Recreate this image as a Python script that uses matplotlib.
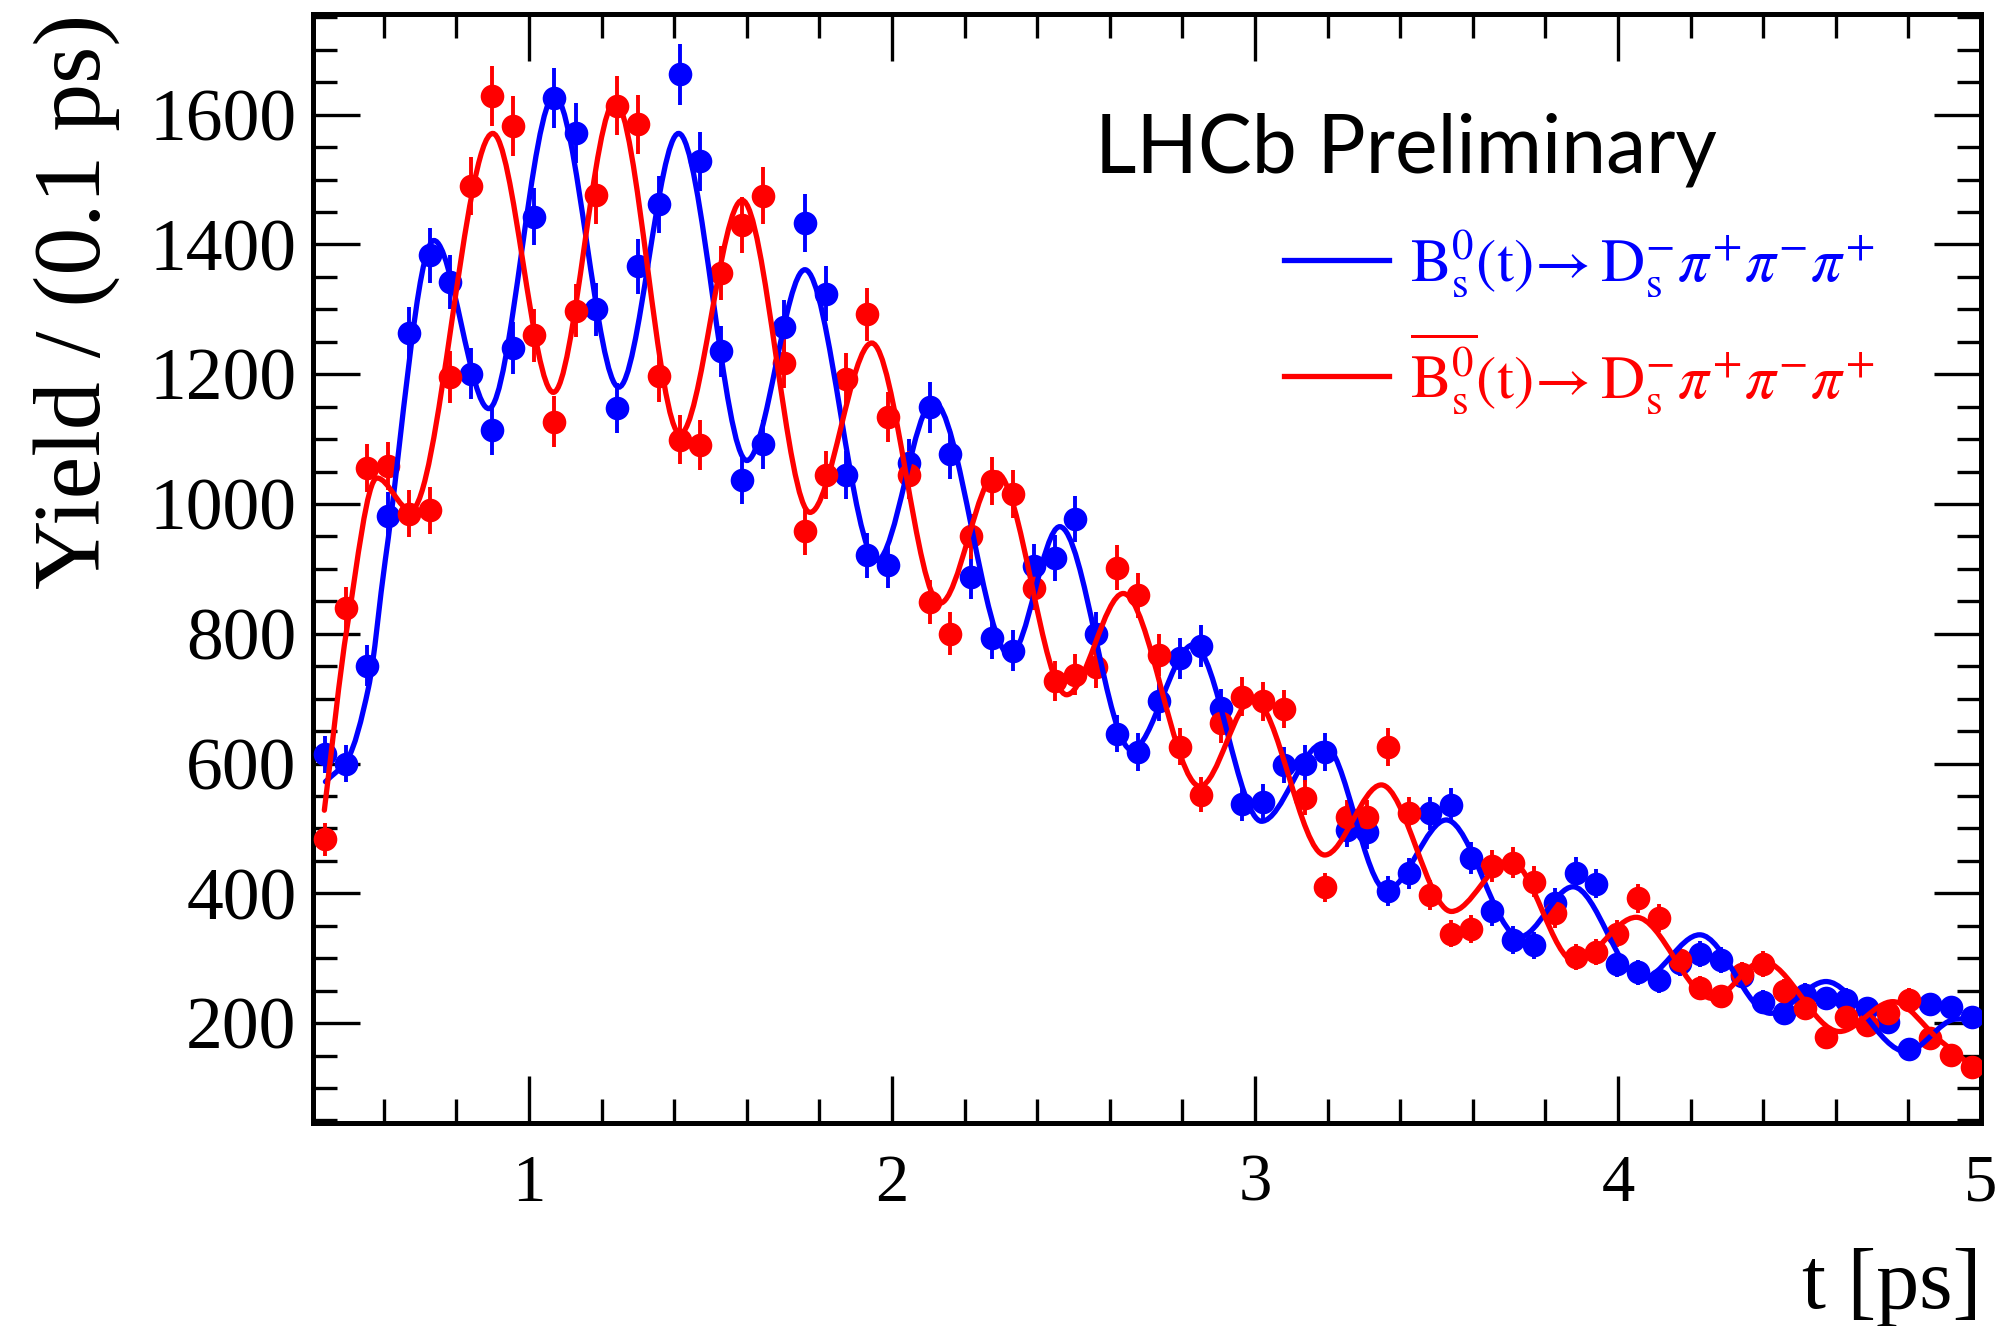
import numpy as np
import matplotlib
matplotlib.use('Agg')
import matplotlib.pyplot as plt
from matplotlib.path import Path
from matplotlib.patches import PathPatch
from matplotlib.lines import Line2D
from matplotlib.ticker import MultipleLocator

# bin centres [ps]
t_bins = [0.439, 0.496, 0.554, 0.611, 0.669, 0.726, 0.783, 0.841, 0.898, 0.956,
          1.013, 1.070, 1.128, 1.185, 1.243, 1.300, 1.357, 1.415, 1.472, 1.530,
          1.587, 1.644, 1.702, 1.759, 1.817, 1.874, 1.931, 1.989, 2.046, 2.104,
          2.161, 2.218, 2.276, 2.333, 2.391, 2.448, 2.505, 2.563, 2.620, 2.678,
          2.735, 2.792, 2.850, 2.907, 2.965, 3.022, 3.079, 3.137, 3.194, 3.252,
          3.309, 3.366, 3.424, 3.481, 3.539, 3.596, 3.653, 3.711, 3.768, 3.826,
          3.883, 3.940, 3.998, 4.055, 4.113, 4.170, 4.227, 4.285, 4.342, 4.400,
          4.457, 4.514, 4.572, 4.629, 4.687, 4.744, 4.801, 4.859, 4.916, 4.974]

# Bs0 -> Ds pi pi pi (blue)
yield_bs = [614, 600, 751, 982, 1263, 1383, 1342, 1201, 1114, 1240,
            1443, 1626, 1572, 1300, 1148, 1366, 1462, 1662, 1528, 1235,
            1037, 1092, 1273, 1433, 1324, 1045, 921, 906, 1063, 1149,
            1077, 888, 793, 774, 904, 917, 977, 800, 646, 618,
            696, 762, 781, 685, 538, 541, 598, 600, 618, 497,
            495, 403, 431, 523, 536, 454, 372, 328, 320, 385,
            432, 415, 291, 278, 266, 292, 307, 297, 273, 233,
            215, 243, 238, 236, 223, 202, 160, 230, 225, 210]
err_bs = [28, 28, 32, 36, 41, 43, 42, 40, 38, 40,
          44, 46, 46, 41, 39, 42, 44, 47, 45, 40,
          37, 38, 41, 44, 42, 37, 35, 35, 37, 39,
          38, 34, 32, 32, 35, 35, 36, 33, 29, 29,
          30, 32, 32, 30, 27, 27, 28, 28, 29, 26,
          26, 23, 24, 26, 27, 25, 22, 21, 21, 23,
          24, 23, 20, 19, 19, 20, 20, 20, 19, 18,
          17, 18, 18, 18, 17, 16, 15, 17, 17, 17]

# Bs0bar -> Ds pi pi pi (red)
yield_bsbar = [483, 839, 1056, 1058, 985, 990, 1195, 1490, 1629, 1583,
               1260, 1127, 1298, 1476, 1614, 1585, 1197, 1099, 1091, 1356,
               1430, 1475, 1218, 958, 1044, 1192, 1292, 1134, 1044, 849,
               800, 950, 1035, 1015, 870, 727, 737, 748, 902, 859,
               767, 626, 552, 662, 703, 696, 684, 547, 409, 517,
               517, 625, 523, 398, 338, 345, 442, 447, 418, 369,
               302, 310, 338, 392, 362, 297, 254, 241, 275, 291,
               250, 223, 179, 210, 197, 215, 236, 177, 151, 133]
err_bsbar = [25, 33, 37, 37, 36, 36, 40, 44, 46, 46,
             41, 39, 41, 44, 46, 46, 40, 38, 38, 42,
             43, 44, 40, 36, 37, 40, 41, 39, 37, 34,
             33, 35, 37, 37, 34, 31, 31, 31, 35, 34,
             32, 29, 27, 30, 30, 30, 30, 27, 23, 26,
             26, 29, 26, 23, 21, 21, 24, 24, 24, 22,
             20, 20, 21, 23, 22, 20, 18, 18, 19, 20,
             18, 17, 15, 17, 16, 17, 18, 15, 14, 13]

# fit curves, read at their turning points
fit_t_bs = [0.439, 0.499, 0.558, 0.604, 0.738, 0.889, 1.070, 1.247, 1.412, 1.600,
            1.760, 1.958, 2.114, 2.325, 2.462, 2.660, 2.830, 3.018, 3.188, 3.362,
            3.527, 3.729, 3.876, 4.065, 4.225, 4.420, 4.573, 4.794, 4.930, 4.977]
fit_y_bs = [572, 606, 718, 914, 1406, 1147, 1629, 1180, 1571, 1067,
            1361, 913, 1158, 767, 965, 621, 783, 511, 631, 405,
            513, 333, 410, 268, 336, 215, 264, 156, 206, 207]

fit_t_bsbar = [0.436, 0.499, 0.581, 0.674, 0.900, 1.067, 1.237, 1.416, 1.587, 1.774,
               1.944, 2.132, 2.288, 2.481, 2.637, 2.848, 2.995, 3.192, 3.348, 3.541,
               3.702, 3.881, 4.050, 4.260, 4.399, 4.610, 4.757, 4.885, 4.977]
fit_y_bsbar = [528, 811, 1040, 990, 1571, 1172, 1620, 1108, 1468, 987,
               1248, 847, 1048, 706, 862, 565, 700, 459, 567, 372,
               451, 295, 363, 238, 295, 187, 233, 174, 133]

x_ticks = [1, 2, 3, 4, 5]
y_ticks = [200, 400, 600, 800, 1000, 1200, 1400, 1600]

BLUE = '#0000ff'
RED = '#ff0000'


def smooth_path(xs, ys):
    # cubic bezier through the read points, flat at turning points
    xs = np.asarray(xs, float)
    ys = np.asarray(ys, float)
    d = np.diff(ys) / np.diff(xs)
    m = np.zeros(len(xs))
    for k in range(1, len(xs) - 1):
        if d[k - 1] * d[k] > 0:
            m[k] = 2.0 / (1.0 / d[k - 1] + 1.0 / d[k])
    m[0] = d[0]
    m[-1] = d[-1]
    verts = [(xs[0], ys[0])]
    codes = [Path.MOVETO]
    for k in range(len(xs) - 1):
        h = xs[k + 1] - xs[k]
        verts += [(xs[k] + h / 3, ys[k] + m[k] * h / 3),
                  (xs[k + 1] - h / 3, ys[k + 1] - m[k + 1] * h / 3),
                  (xs[k + 1], ys[k + 1])]
        codes += [Path.CURVE4] * 3
    return Path(verts, codes)


plt.rcParams['mathtext.fontset'] = 'stix'
serif = 'Liberation Serif'

fig = plt.figure(figsize=(19.98, 13.26), dpi=100)
ax = fig.add_axes([0.1567, 0.1531, 0.8348, 0.8363])

for yv, ev, col in [(yield_bs, err_bs, BLUE), (yield_bsbar, err_bsbar, RED)]:
    ax.errorbar(t_bins, yv, yerr=ev, fmt='o', color=col, ms=17, mew=0,
                elinewidth=2.8, capsize=0, zorder=3)

for ft, fy, col in [(fit_t_bs, fit_y_bs, BLUE), (fit_t_bsbar, fit_y_bsbar, RED)]:
    ax.add_patch(PathPatch(smooth_path(ft, fy), facecolor='none', edgecolor=col,
                           lw=3.8, zorder=4, capstyle='round'))

ax.set_xlim(0.405, 5.0)
ax.set_ylim(46, 1755)
ax.set_xticks(x_ticks)
ax.set_yticks(y_ticks)
ax.xaxis.set_minor_locator(MultipleLocator(0.2))
ax.yaxis.set_minor_locator(MultipleLocator(50))
ax.tick_params(which='both', direction='in', top=True, right=True, width=2.4)
ax.tick_params(which='major', length=34)
ax.tick_params(which='minor', length=17)
ax.tick_params(axis='y', pad=12)
ax.tick_params(axis='x', pad=22)
for lab in ax.get_yticklabels():
    lab.set_fontfamily(serif)
    lab.set_fontsize(53)
for lab in ax.get_xticklabels():
    lab.set_fontfamily(serif)
    lab.set_fontsize(48)
for sp in ax.spines.values():
    sp.set_linewidth(3.6)

ax.set_ylabel('Yield / (0.1 ps)', fontfamily=serif, fontsize=69, loc='top')
ax.yaxis.set_label_coords(-0.1157, 1.0)
ax.set_xlabel('t [ps]', fontfamily=serif, fontsize=62, loc='right')
ax.xaxis.set_label_coords(1.0, -0.112)

ax.text(0.4685, 0.8569, 'LHCb Preliminary', transform=ax.transAxes,
        fontfamily='Lato', fontsize=58, va='baseline', ha='left')

handles = [Line2D([], [], color=BLUE, lw=3.8), Line2D([], [], color=RED, lw=3.8)]
labels = [r'$\mathrm{B}_\mathrm{s}^0\mathrm{(t)}\!\rightarrow \mathrm{D}_\mathrm{s}^{-}\pi^{+}\pi^{-}\pi^{+}$',
          r'$\overline{\mathrm{B}_\mathrm{s}^0}\mathrm{(t)}\!\rightarrow \mathrm{D}_\mathrm{s}^{-}\pi^{+}\pi^{-}\pi^{+}$']
leg = ax.legend(handles, labels, loc='upper left', bbox_to_anchor=(0.5821, 0.8064),
                frameon=False, fontsize=44, handlelength=1.72, handletextpad=0.34,
                labelspacing=0.5, borderpad=0, borderaxespad=0)
leg.get_texts()[0].set_color(BLUE)
leg.get_texts()[1].set_color(RED)

fig.savefig('out.png', dpi=100)
